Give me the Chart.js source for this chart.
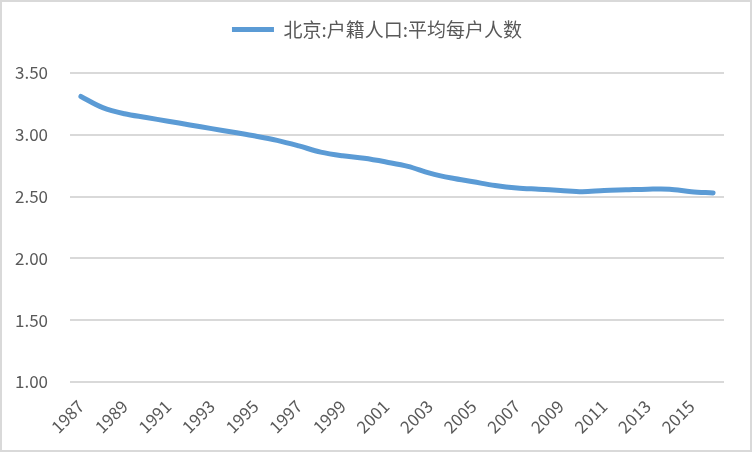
<!DOCTYPE html>
<html>
<head>
<meta charset="utf-8">
<script src="https://cdn.jsdelivr.net/npm/chart.js@4"></script>
<style>
  html, body { margin: 0; padding: 0; background: #fff; }
  #wrap { width: 748px; height: 448px; border: 2px solid #d9d9d9; }
</style>
</head>
<body>
<div id="wrap"><canvas id="chartCanvas" width="748" height="448"></canvas></div>
<script>
// 北京 户籍人口 平均每户人数 1987-2016

const SERIES_NAME = '北京:户籍人口:平均每户人数';

const years = [
    '1987', '1988', '1989', '1990', '1991', '1992', '1993', '1994', '1995', '1996',
    '1997', '1998', '1999', '2000', '2001', '2002', '2003', '2004', '2005', '2006',
    '2007', '2008', '2009', '2010', '2011', '2012', '2013', '2014', '2015', '2016'
];

const perHousehold = [
    3.31, 3.22, 3.17, 3.14, 3.11, 3.08, 3.05, 3.02, 2.99, 2.955,
    2.91, 2.86, 2.83, 2.81, 2.78, 2.745, 2.69, 2.65, 2.62, 2.59,
    2.57, 2.56, 2.55, 2.54, 2.55, 2.555, 2.56, 2.56, 2.54, 2.53
];

const yTicks = { min: 1.0, max: 3.5, step: 0.5 };

const FONT = '"Noto Sans CJK SC", "Noto Sans", sans-serif';
const TEXT_COLOR = '#595959';
const GRID_COLOR = '#d9d9d9';
const LINE_COLOR = '#5b9bd5';

// 凡例の下に余白を追加し、少し右へずらす
const legendGap = {
    id: 'legendGap',
    beforeInit(chart) {
        const fit = chart.legend.fit;
        chart.legend.fit = function () {
            fit.bind(chart.legend)();
            this.height += 24;
        };
    },
    afterLayout(chart) {
        chart.legend.left += 20;
    }
};

const ctx = document.getElementById('chartCanvas').getContext('2d');

const chart = new Chart(ctx, {
    type: 'line',
    data: {
        labels: years,
        datasets: [{
            label: SERIES_NAME,
            data: perHousehold,
            borderColor: LINE_COLOR,
            backgroundColor: LINE_COLOR,
            borderWidth: 5,
            borderCapStyle: 'round',
            borderJoinStyle: 'round',
            pointRadius: 0,
            pointStyle: 'line',
            tension: 0.35
        }]
    },
    options: {
        animation: false,
        responsive: false,
        layout: { padding: { left: 8, right: 26, top: 0, bottom: 0 } },
        scales: {
            x: {
                offset: true,
                grid: { display: false },
                border: { display: false },
                ticks: {
                    color: TEXT_COLOR,
                    font: { family: FONT, size: 17 },
                    autoSkip: false,
                    maxRotation: 45,
                    minRotation: 45,
                    padding: 6,
                    callback: (v, i) => (i % 2 === 0 ? years[i] : '')
                },
                afterFit: s => { s.height = 68; }
            },
            y: {
                min: yTicks.min,
                max: yTicks.max,
                grid: { color: GRID_COLOR, lineWidth: 2, drawTicks: false },
                border: { display: false },
                ticks: {
                    stepSize: yTicks.step,
                    color: TEXT_COLOR,
                    font: { family: FONT, size: 17 },
                    padding: 22,
                    callback: v => v.toFixed(2)
                },
                afterFit: s => { s.width = 60; }
            }
        },
        plugins: {
            legend: {
                labels: {
                    color: TEXT_COLOR,
                    font: { family: FONT, size: 19 },
                    usePointStyle: true,
                    pointStyleWidth: 42,
                    padding: 18
                }
            },
            tooltip: { enabled: false }
        }
    },
    plugins: [legendGap]
});
</script>
</body>
</html>
